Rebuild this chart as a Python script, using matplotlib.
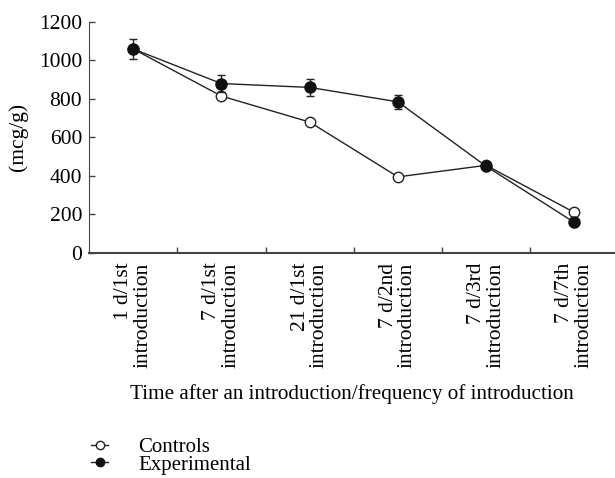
import numpy as np
import matplotlib
matplotlib.use('Agg')
from matplotlib import pyplot as plt
from matplotlib.lines import Line2D

plt.rcParams['font.family'] = ['Liberation Serif', 'DejaVu Serif']

# datos
categorias = ['1 d/1st\nintroduction', '7 d/1st\nintroduction', '21 d/1st\nintroduction',
              '7 d/2nd\nintroduction', '7 d/3rd\nintroduction', '7 d/7th\nintroduction']
controles = [1060, 815, 680, 395, 455, 210]
experimental = [1060, 880, 860, 785, 450, 158]
error_exp = [52, 43, 45, 38, 12, 0]

x = np.arange(len(categorias))

fig = plt.figure(figsize=(6.15, 4.78), dpi=100)
ax = fig.add_axes([0.1447, 0.471, 0.8553, 0.483])

ax.plot(x, controles, color='#222222', lw=1, marker='o', ms=7.5,
        mfc='white', mec='#222222', mew=1, zorder=3)
ax.errorbar(x, experimental, yerr=error_exp, color='#222222', lw=1, marker='o', ms=8,
            mfc='#111111', mec='#111111', capsize=3, elinewidth=1, zorder=4)

ax.set_xlim(-0.5, 5.46)
ax.set_ylim(0, 1200)
ax.set_yticks(range(0, 1201, 200))
ax.set_xticks(x)
ax.set_xticklabels(categorias, rotation=90, fontsize=15.5, linespacing=1.0,
                   multialignment='right')
ax.set_xticks(np.arange(0.5, 5, 1), minor=True)
ax.tick_params(axis='x', which='major', length=0, pad=7)
ax.tick_params(axis='x', which='minor', direction='in', length=4, width=1, color='#444444')
ax.tick_params(axis='y', direction='in', length=4, width=1, labelsize=15.5, color='#444444', pad=5)
ax.spines['top'].set_visible(False)
ax.spines['right'].set_visible(False)
ax.spines['left'].set_color('#444444')
ax.spines['bottom'].set_color('#444444')
ax.spines['bottom'].set_linewidth(1.5)
ax.set_ylabel('(mcg/g)', fontsize=15.5, labelpad=8)
ax.set_xlabel('Time after an introduction/frequency of introduction', fontsize=15.2, labelpad=12)

h = [Line2D([], [], color='#222222', lw=1, marker='o', ms=6, mfc='white', mec='#222222'),
     Line2D([], [], color='#222222', lw=1, marker='o', ms=6, mfc='#111111', mec='#111111')]
fig.legend(h, ['Controls', 'Experimental'], loc='lower left', bbox_to_anchor=(0.118, -0.032),
           frameon=False, fontsize=15, handlelength=0.8, handletextpad=1.45, labelspacing=-0.1)

fig.savefig('out.png', dpi=100)
